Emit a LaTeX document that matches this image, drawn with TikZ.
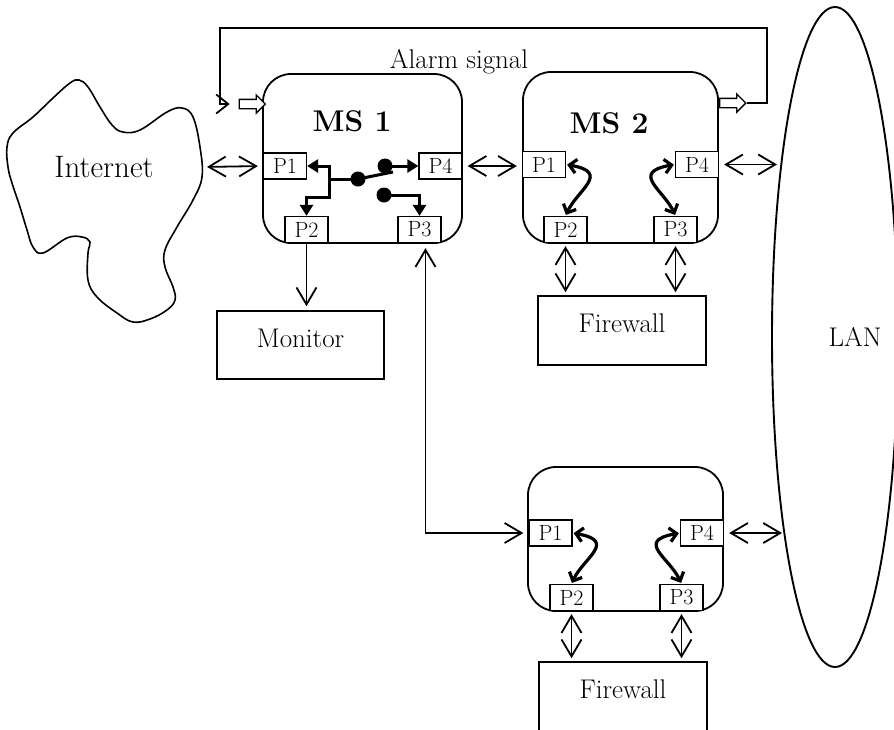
\documentclass[tikz,border=0pt]{standalone}
\usepackage{amsmath}
\usepackage{tikz}
\usetikzlibrary{arrows.meta,shapes.arrows,shapes.geometric}

\newcommand{\fsz}[1]{\fontsize{#1}{#1}\selectfont}

\begin{document}
\begin{tikzpicture}[x=1pt,y=-1pt,
        switchbox/.style={draw,line width=1.8pt,rounded corners=28pt,inner sep=0pt},
        port/.style={draw,fill=white,line width=1.3pt,minimum width=43pt,minimum height=26pt,inner sep=0pt,font=\fsz{22}},
        unit/.style={draw,line width=1.6pt,minimum width=168pt,minimum height=69pt,inner sep=0pt,text depth=14pt,font=\fsz{27}},
        link/.style={line width=1.8pt,{Straight Barb[length=17pt,width=20pt]}-{Straight Barb[length=17pt,width=20pt]},shorten <=5pt,shorten >=5pt},
        feed/.style={line width=1.8pt,-{Straight Barb[length=17pt,width=20pt]},shorten >=4pt},
        sw/.style={line width=3pt,-{Triangle[length=11pt,width=13pt]}},
        curv/.style={line width=3.2pt,{Straight Barb[length=7pt,width=14pt]}-{Straight Barb[length=7pt,width=14pt]},shorten <=1pt,shorten >=1pt},
        dot/.style={circle,fill,inner sep=0pt,minimum size=15pt},
        sigarrow/.style={single arrow,draw,fill=white,line width=1.3pt,minimum height=26pt,inner xsep=0pt,inner ysep=4pt,single arrow head extend=4.5pt},
        alarmline/.style={line width=1.8pt,-{Straight Barb[length=12pt,width=19pt]}}]
    \useasboundingbox (0,0) rectangle (894,729);

    % internet cloud
    \draw[line width=1.6pt] plot[smooth cycle,tension=0.65] coordinates {
        (70,83) (79,80) (88,87) (100,107) (112,125) (123,132) (140,130) (167,112) (182,108) (193,117)
        (200,147) (202,177) (193,200) (177,227) (165,250) (165,267) (173,287) (175,300)
        (167,310) (150,319) (133,322) (117,313) (97,297) (88,280) (88,253) (90,242)
        (82,237) (67,238) (43,253) (33,247) (27,230) (20,207) (12,183) (8,167)
        (7,147) (13,133) (33,117) (53,98)};
    \node[font=\fsz{31},anchor=base] (inet) at (104,177) {Internet};
    \coordinate (inetE) at (202,167);

    % LAN
    \node[draw,ellipse,line width=1.9pt,minimum width=126pt,minimum height=660pt,inner sep=0pt] (lan) at (835,337) {};
    \node[font=\fsz{27}] (lanlbl) at (855,337) {LAN};
    \coordinate (lanA) at (777,164.5);
    \coordinate (lanB) at (782,533);

    % switches
    \node[switchbox,minimum width=199pt,minimum height=169pt] (ms1) at (362.5,158.5) {};
    \node[switchbox,minimum width=195pt,minimum height=171pt] (ms2) at (620.5,157.5) {};
    \node[switchbox,minimum width=195pt,minimum height=144pt] (ms3) at (625.5,539) {};
    \node[font=\fsz{30}\bfseries] (ms1lbl) at (352,121) {MS 1};
    \node[font=\fsz{30}\bfseries] (ms2lbl) at (609,123) {MS 2};

    \node[port] (m1p1) at (285,166) {P1};
    \node[port] (m1p4) at (440.5,166) {P4};
    \node[port] (m1p2) at (306.5,229.5) {P2};
    \node[port] (m1p3) at (419.5,229.5) {P3};

    \node[port] (m2p1) at (544,164.5) {P1};
    \node[port] (m2p4) at (697,164.5) {P4};
    \node[port] (m2p2) at (565.5,229.5) {P2};
    \node[port] (m2p3) at (675.5,229.5) {P3};

    \node[port] (m3p1) at (550.5,533) {P1};
    \node[port] (m3p4) at (702,533) {P4};
    \node[port] (m3p2) at (571.5,597.5) {P2};
    \node[port] (m3p3) at (681.5,597.5) {P3};

    % boxes
    \node[unit,minimum width=167pt,minimum height=68pt] (mon) at (300.5,345) {Monitor};
    \node[unit] (fw1) at (622,330.5) {Firewall};
    \node[unit] (fw2) at (623,696.5) {Firewall};

    % MS 1 switching
    \coordinate (jn) at (329,179);
    \draw[sw] (358,179) -- (jn) |- (m1p1.east);
    \draw[sw] (jn) -- ++(0,18) -| (m1p2.north);
    \draw[line width=3pt] (358,179) -- (393,172);
    \draw[sw] (385,166) -- (m1p4.west);
    \draw[sw] (384,195) -| (m1p3.north);
    \node[dot] (pv) at (358,179) {};
    \node[dot] (up) at (385,166) {};
    \node[dot] (lo) at (384,195) {};

    % MS 2 and lower switch
    \draw[curv] (m2p1.east) .. controls +(45,8) and +(12,-26) .. (m2p2.north);
    \draw[curv] (m2p4.west) .. controls +(-45,8) and +(-12,-26) .. (m2p3.north);
    \draw[curv] (m3p1.east) .. controls +(45,8) and +(12,-26) .. (m3p2.north);
    \draw[curv] (m3p4.west) .. controls +(-45,8) and +(-12,-26) .. (m3p3.north);

    % links
    \draw[link] (inetE) -- (m1p1.west);
    \draw[link] (m1p4.east) -- (m1p4.east -| m2p1.west);
    \draw[link,shorten >=0pt] (m2p4.east) -- (lanA);
    \draw[link,shorten >=0pt] (m3p4.east) -- (lanB);
    \draw[link] ([xshift=6pt]m1p3.south) |- (m3p1.west);
    \draw[feed] (m1p2.south) -- (m1p2.south |- mon.north);
    \draw[link,shorten <=3pt,shorten >=3pt] (m2p2.south) -- (m2p2.south |- fw1.north);
    \draw[link,shorten <=3pt,shorten >=3pt] (m2p3.south) -- (m2p3.south |- fw1.north);
    \draw[link,shorten <=3pt,shorten >=3pt] (m3p2.south) -- (m3p2.south |- fw2.north);
    \draw[link,shorten <=3pt,shorten >=3pt] (m3p3.south) -- (m3p3.south |- fw2.north);

    % alarm signal
    \node[sigarrow] (al1) at (250,104) {};
    \node[sigarrow] (al2) at (730.5,103) {};
    \draw[alarmline] (al2.tip) -| (767,28) -| ([xshift=-19pt]al1.tail) -- ([xshift=-9pt]al1.tail);
    \node[font=\fsz{27},anchor=base] (alarmtxt) at (459,68) {Alarm signal};
\end{tikzpicture}
\end{document}
